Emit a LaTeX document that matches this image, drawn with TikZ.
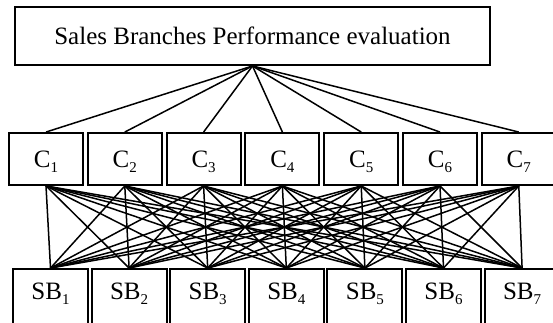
\documentclass[tikz,border=0pt]{standalone}
\usepackage{fontspec}
\setmainfont{Liberation Serif}
\newcommand{\mysub}[1]{\raisebox{-0.2em}{\fontsize{15}{15}\selectfont #1}}
\begin{document}
\begin{tikzpicture}[x=1pt,y=-1pt,
  boxbase/.style={draw,line width=1.9pt,inner sep=0pt,font=\fontsize{25}{30}\selectfont},
  topbox/.style={boxbase,minimum width=475pt,minimum height=58pt,text height=16.5pt,text depth=0pt},
  cbox/.style={boxbase,minimum width=74pt,minimum height=52pt,text height=16.5pt,text depth=0pt},
  sbbox/.style={boxbase,minimum width=75pt,minimum height=61pt,text height=16.5pt,text depth=16.5pt},
  link/.style={line width=1.5pt}]
\useasboundingbox (0,0) rectangle (553,322);
\clip (0,0) rectangle (553,322);
\node[topbox] (top) at (252.5,36) {Sales Branches Performance evaluation};
\foreach \i/\x in {1/46,2/124.8,3/203.6,4/282.4,5/361.2,6/440,7/518.8}{
  \node[cbox] (c\i) at (\x,159) {C\mysub{\i}};
}
\foreach \i/\x in {1/50.5,2/129.1,3/207.7,4/286.3,5/364.9,6/443.5,7/522.1}{
  \node[sbbox] (sb\i) at (\x,299.5) {SB\mysub{\i}};
}
\foreach \i in {1,...,7}{
  \draw[link] (top.south) -- (c\i.north);
  \foreach \j in {1,...,7}{
    \draw[link] (c\i.south) -- (sb\j.north);
  }
}
\end{tikzpicture}
\end{document}
